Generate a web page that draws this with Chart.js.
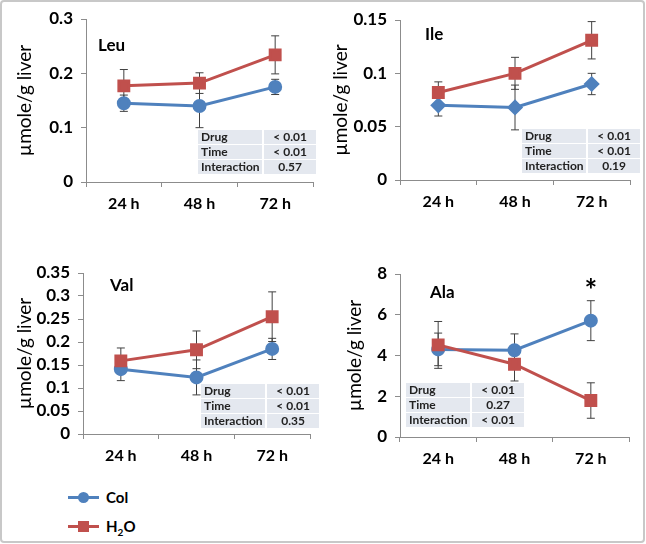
<!DOCTYPE html>
<html>
<head>
<meta charset="utf-8">
<script src="https://cdn.jsdelivr.net/npm/chart.js@4"></script>
<style>
  body { margin: 0; background: #fff; font-family: Lato, "Open Sans", sans-serif; }
  #frame { position: relative; width: 646px; height: 544px; overflow: hidden; }
  #border { position: absolute; left: 0; top: 0; width: 641px; height: 539px; border: 2px solid #c8c8c8; border-radius: 4px; }
  .panel { position: absolute; width: 323px; height: 250px; }
  .name { position: absolute; font-weight: bold; font-size: 17px; color: #000; }
  table.stats { position: absolute; border-collapse: separate; border-spacing: 0 1px; font-size: 12px; font-weight: bold; color: #222; }
  table.stats td { background: #e4e8ef; height: 14px; padding: 0 2px 0 3px; line-height: 14px; }
  table.stats td.v { text-align: center; border-left: 2px solid #fff; }
  .legend { position: absolute; left: 68px; font-weight: bold; font-size: 15px; }
  .legend .ln { position: absolute; left: 0; top: 8px; width: 31px; height: 3px; }
  .legend .mk { position: absolute; }
  .legend .tx { position: absolute; left: 38px; top: 0; white-space: nowrap; }
</style>
</head>
<body>
<div id="frame">
  <div id="border"></div>
  <div class="panel" style="left:0;top:0"><canvas id="leu"></canvas></div>
  <div class="panel" style="left:323px;top:0"><canvas id="ile"></canvas></div>
  <div class="panel" style="left:0;top:230px"><canvas id="val"></canvas></div>
  <div class="panel" style="left:323px;top:230px"><canvas id="ala"></canvas></div>

  <div class="name" style="left:98px;top:34px">Leu</div>
  <div class="name" style="left:425px;top:23px">Ile</div>
  <div class="name" style="left:110px;top:274px">Val</div>
  <div class="name" style="left:430px;top:281px">Ala</div>

  <table class="stats" id="leuTable" style="left:198px;top:129px"></table>
  <table class="stats" id="ileTable" style="left:522px;top:128px"></table>
  <table class="stats" id="valTable" style="left:201px;top:383px"></table>
  <table class="stats" id="alaTable" style="left:406px;top:382px"></table>

  <div class="legend" style="top:488px">
    <div class="ln" style="background:#4f81bd"></div>
    <div class="mk" style="left:10px;top:4px;width:11px;height:11px;border-radius:50%;background:#4f81bd"></div>
    <div class="tx">Col</div>
  </div>
  <div class="legend" style="top:517px">
    <div class="ln" style="background:#c0504d"></div>
    <div class="mk" style="left:10px;top:4px;width:11px;height:11px;background:#c0504d"></div>
    <div class="tx">H<sub style="font-size:10px">2</sub>O</div>
  </div>
</div>

<script>
// categories and labels
const categories = ['24 h', '48 h', '72 h'];
const statLabels = ['Drug', 'Time', 'Interaction'];

// Leu
const leuCol = [0.145, 0.140, 0.175];
const leuColErr = [0.015, 0.04, 0.014];
const leuH2O = [0.177, 0.182, 0.234];
const leuH2OErr = [0.03, 0.019, 0.035];
const leuStats = ['< 0.01', '< 0.01', '0.57'];

// Ile
const ileCol = [0.070, 0.068, 0.090];
const ileColErr = [0.01, 0.021, 0.01];
const ileH2O = [0.082, 0.100, 0.131];
const ileH2OErr = [0.01, 0.015, 0.0175];
const ileStats = ['< 0.01', '< 0.01', '0.19'];

// Val
const valCol = [0.141, 0.123, 0.185];
const valColErr = [0.025, 0.038, 0.023];
const valH2O = [0.159, 0.183, 0.255];
const valH2OErr = [0.028, 0.041, 0.054];
const valStats = ['< 0.01', '< 0.01', '0.35'];

// Ala
const alaCol = [4.30, 4.26, 5.71];
const alaColErr = [0.8, 0.8, 0.98];
const alaH2O = [4.52, 3.57, 1.79];
const alaH2OErr = [1.15, 0.82, 0.87];
const alaStats = ['< 0.01', '0.27', '< 0.01'];

const BLUE = '#4f81bd';
const RED = '#c0504d';
const FONT = 'Lato, "Open Sans", sans-serif';

// vertical error bars, drawn under the lines and markers
const errorBars = {
  id: 'errorBars',
  beforeDatasetsDraw(chart) {
    const ctx = chart.ctx;
    const y = chart.scales.y;
    chart.data.datasets.forEach((ds, i) => {
      const meta = chart.getDatasetMeta(i);
      meta.data.forEach((pt, j) => {
        const top = y.getPixelForValue(ds.data[j] + ds.errors[j]);
        const bot = y.getPixelForValue(ds.data[j] - ds.errors[j]);
        ctx.save();
        ctx.strokeStyle = '#404040';
        ctx.lineWidth = 1;
        ctx.beginPath();
        ctx.moveTo(pt.x, top); ctx.lineTo(pt.x, bot);
        ctx.moveTo(pt.x - 4, top); ctx.lineTo(pt.x + 4, top);
        ctx.moveTo(pt.x - 4, bot); ctx.lineTo(pt.x + 4, bot);
        ctx.stroke();
        ctx.restore();
      });
    });
  }
};

// significance star above a category
const starMark = {
  id: 'starMark',
  afterDatasetsDraw(chart, args, opts) {
    if (opts.index == null) return;
    const ctx = chart.ctx;
    const x = chart.scales.x.getPixelForValue(opts.index);
    ctx.save();
    ctx.font = 'bold 30px ' + FONT;
    ctx.fillStyle = '#000';
    ctx.textAlign = 'center';
    ctx.textBaseline = 'middle';
    ctx.fillText('*', x, chart.chartArea.top + 17);
    ctx.restore();
  }
};

function fillTable(id, values) {
  const t = document.getElementById(id);
  t.innerHTML = statLabels.map((l, i) =>
    '<tr><td style="width:55px">' + l + '</td><td class="v" style="width:47px">' + values[i] + '</td></tr>').join('');
}

function makePanel(id, col, colErr, h2o, h2oErr, yMax, step, box, colMarker, star) {
  const W = 323, H = 250;
  new Chart(document.getElementById(id), {
    type: 'line',
    data: {
      labels: categories,
      datasets: [
        {
          label: 'H2O', data: h2o, errors: h2oErr,
          borderColor: RED, backgroundColor: RED, borderWidth: 3,
          pointStyle: 'rect', pointRadius: 7, pointHoverRadius: 7
        },
        {
          label: 'Col', data: col, errors: colErr,
          borderColor: BLUE, backgroundColor: BLUE, borderWidth: 3,
          pointStyle: colMarker, pointRadius: colMarker === 'rectRot' ? 6 : 5.5, pointHoverRadius: 6
        }
      ]
    },
    options: {
      responsive: false,
      animation: false,
      layout: { padding: { left: box.pl, right: W - box.right, top: box.top, bottom: 0 } },
      plugins: { legend: { display: false }, tooltip: { enabled: false }, starMark: { index: star } },
      scales: {
        x: {
          offset: true,
          grid: { offset: true, drawOnChartArea: false, tickLength: 5, color: '#8c8c8c' },
          border: { color: '#8c8c8c' },
          ticks: { padding: 7, color: '#000', font: { family: FONT, size: 16, weight: 'bold' } },
          afterFit: s => { s.height = H - box.bottom; }
        },
        y: {
          min: 0, max: yMax,
          grid: { drawOnChartArea: false, tickLength: 5, color: '#8c8c8c' },
          border: { color: '#8c8c8c' },
          ticks: {
            stepSize: step, padding: 8, color: '#000', autoSkip: false,
            font: { family: FONT, size: 17, weight: 'bold' },
            callback: v => String(Number(v.toFixed(3)))
          },
          title: {
            display: true, text: 'µmole/g liver', color: '#000',
            padding: { top: 0, bottom: 0 },
            font: { family: FONT, size: 19, lineHeight: 1.2 }
          },
          afterFit: s => { s.width = box.left - box.pl; }
        }
      }
    },
    plugins: [errorBars, starMark]
  });
}

document.querySelectorAll('canvas').forEach(c => { c.width = 323; c.height = 250; });

makePanel('leu', leuCol, leuColErr, leuH2O, leuH2OErr, 0.3, 0.1,
  { pl: 13, left: 86, right: 314, top: 19, bottom: 182 }, 'circle', null);
makePanel('ile', ileCol, ileColErr, ileH2O, ileH2OErr, 0.15, 0.05,
  { pl: 6, left: 77, right: 307, top: 20, bottom: 180 }, 'rectRot', null);
makePanel('val', valCol, valColErr, valH2O, valH2OErr, 0.35, 0.05,
  { pl: 13, left: 83, right: 310, top: 43, bottom: 204 }, 'circle', null);
makePanel('ala', alaCol, alaColErr, alaH2O, alaH2OErr, 8, 2,
  { pl: 20, left: 77, right: 306, top: 44, bottom: 207 }, 'circle', 2);

fillTable('leuTable', leuStats);
fillTable('ileTable', ileStats);
fillTable('valTable', valStats);
fillTable('alaTable', alaStats);
</script>
</body>
</html>
